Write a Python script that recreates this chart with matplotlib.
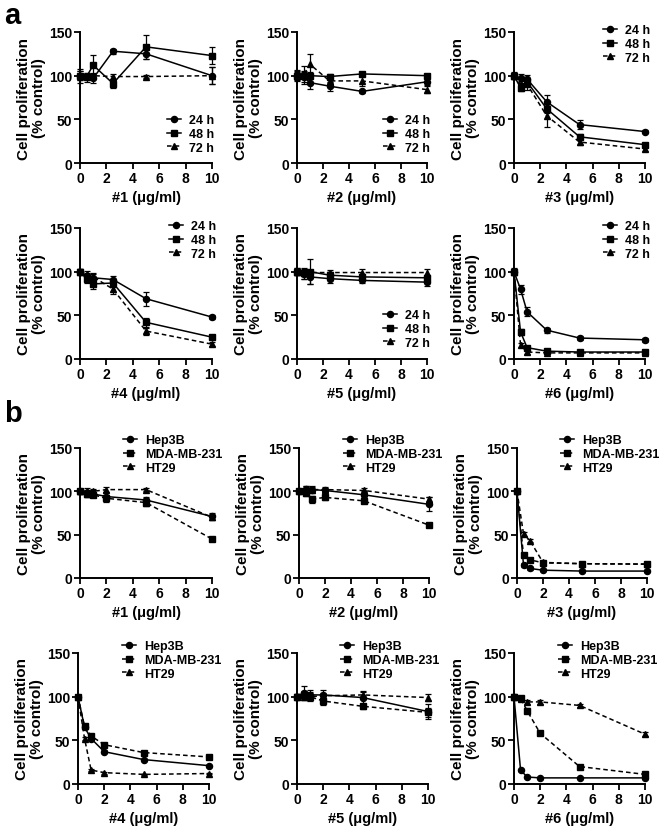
import matplotlib
matplotlib.use("Agg")
import matplotlib.pyplot as plt
from matplotlib.lines import Line2D

plt.rcParams['font.family'] = ['Liberation Sans', 'DejaVu Sans']
plt.rcParams['font.weight'] = 'bold'

W, H = 660, 828

# ---------------- data ----------------
x_a = [0, 0.5, 1, 2.5, 5, 10]
x_b = [0, 0.5, 1, 2, 5, 10]
labels_a = ["24 h", "48 h", "72 h"]
labels_b = ["Hep3B", "MDA-MB-231", "HT29"]
xlabels = ["#1 (\u03bcg/ml)", "#2 (\u03bcg/ml)", "#3 (\u03bcg/ml)",
           "#4 (\u03bcg/ml)", "#5 (\u03bcg/ml)", "#6 (\u03bcg/ml)"]

# panel a: time course (24 h, 48 h, 72 h)
a1_24 = [100, 98, 97, 128, 125, 100]
a1_48 = [100, 99, 112, 91, 133, 123]
a1_72 = [100, 100, 100, 99, 99, 100]
a1_err = [[8, 5, 5, 3, 6, 10], [5, 3, 12, 5, 14, 10], [5, 3, 3, 3, 2, 10]]

a2_24 = [100, 99, 92, 88, 82, 93]
a2_48 = [100, 100, 100, 99, 102, 100]
a2_72 = [100, 101, 113, 94, 94, 84]
a2_err = [[6, 6, 7, 5, 2, 4], [4, 4, 4, 3, 2, 2], [5, 10, 12, 4, 6, 4]]

a3_24 = [100, 97, 96, 70, 44, 36]
a3_48 = [100, 86, 93, 62, 30, 21]
a3_72 = [100, 90, 90, 54, 24, 16]
a3_err = [[4, 5, 5, 8, 5, 2], [3, 3, 4, 5, 3, 2], [3, 4, 6, 13, 3, 2]]

a4_24 = [100, 95, 93, 91, 69, 48]
a4_48 = [100, 92, 86, 87, 42, 25]
a4_72 = [100, 97, 94, 80, 32, 17]
a4_err = [[3, 4, 4, 4, 8, 2], [3, 5, 6, 5, 5, 2], [3, 4, 4, 6, 4, 2]]

a5_24 = [100, 97, 94, 92, 90, 88]
a5_48 = [100, 98, 100, 96, 94, 93]
a5_72 = [100, 99, 99, 99, 99, 99]
a5_err = [[4, 5, 8, 5, 3, 4], [4, 6, 14, 4, 3, 3], [3, 4, 3, 3, 4, 4]]

a6_24 = [100, 80, 54, 33, 24, 22]
a6_48 = [100, 31, 13, 9, 8, 8]
a6_72 = [100, 16, 8, 7, 7, 7]
a6_err = [[4, 5, 5, 3, 2, 2], [3, 3, 2, 2, 2, 2], [3, 2, 2, 1, 1, 1]]

# panel b: cell lines (Hep3B, MDA-MB-231, HT29)
b1_hep = [100, 98, 97, 94, 90, 71]
b1_mda = [100, 97, 96, 92, 87, 45]
b1_ht = [100, 100, 100, 102, 102, 70]
b1_err = [[3, 4, 4, 5, 3, 4], [3, 4, 3, 4, 4, 2], [2, 4, 3, 3, 2, 3]]

b2_hep = [100, 103, 102, 101, 96, 85]
b2_mda = [100, 98, 91, 93, 89, 61]
b2_ht = [100, 103, 102, 102, 101, 91]
b2_err = [[2, 3, 4, 3, 4, 8], [2, 3, 4, 3, 3, 2], [2, 3, 3, 3, 3, 3]]

b3_hep = [100, 15, 11, 9, 8, 8]
b3_mda = [100, 26, 21, 17.5, 16.5, 16]
b3_ht = [100, 51, 43, 18, 16.5, 16]
b3_err = [[2, 2, 2, 1, 1, 1], [2, 2, 2, 1, 1, 1], [2, 2, 2, 1, 1, 1]]

b4_hep = [100, 65, 52, 37, 28, 21]
b4_mda = [100, 66, 55, 45, 36, 31]
b4_ht = [100, 52, 16, 13, 11, 12]
b4_err = [[2, 2, 2, 2, 1, 1], [2, 3, 2, 2, 2, 2], [2, 2, 1, 1, 1, 1]]

b5_hep = [100, 104, 102, 102, 99, 83]
b5_mda = [100, 102, 100, 95, 89, 82]
b5_ht = [100, 100, 100, 101, 102, 99]
b5_err = [[3, 8, 6, 6, 8, 9], [3, 4, 5, 4, 3, 5], [3, 4, 3, 3, 3, 4]]

b6_hep = [100, 16, 8, 7, 7, 7]
b6_mda = [100, 98, 84, 58, 20, 11]
b6_ht = [100, 97, 94, 94, 90, 57]
b6_err = [[2, 1, 1, 1, 1, 1], [3, 3, 3, 2, 2, 2], [2, 2, 2, 2, 2, 2]]

panels_a = [(a1_24, a1_48, a1_72, a1_err), (a2_24, a2_48, a2_72, a2_err),
            (a3_24, a3_48, a3_72, a3_err), (a4_24, a4_48, a4_72, a4_err),
            (a5_24, a5_48, a5_72, a5_err), (a6_24, a6_48, a6_72, a6_err)]
panels_b = [(b1_hep, b1_mda, b1_ht, b1_err), (b2_hep, b2_mda, b2_ht, b2_err),
            (b3_hep, b3_mda, b3_ht, b3_err), (b4_hep, b4_mda, b4_ht, b4_err),
            (b5_hep, b5_mda, b5_ht, b5_err), (b6_hep, b6_mda, b6_ht, b6_err)]

# ---------------- layout (pixels) ----------------
axes_px_a = [(80, 212, 33, 164), (297, 427, 33, 164), (514, 645, 33, 164),
             (80, 212, 229, 360), (297, 427, 229, 360), (514, 645, 229, 360)]
axes_px_b = [(80, 212, 449, 579), (299, 429, 449, 579), (517, 647, 449, 579),
             (78, 209, 654, 785), (297, 428, 654, 785), (514, 645, 654, 785)]
# legend anchor: (handle-left x, top y)
leg_a = [(167, 115), (383, 115), (603, 25), (169, 221), (383, 310), (603, 221)]
leg_b = [(123, 435), (343, 435), (560, 435), (122, 641), (340, 641), (558, 641)]

styles_a = [dict(marker='o', ls='-'), dict(marker='s', ls='-'), dict(marker='^', ls=(0, (3, 2)))]
styles_b = [dict(marker='o', ls='-'), dict(marker='s', ls=(0, (3, 2))), dict(marker='^', ls=(0, (3, 2)))]

fig = plt.figure(figsize=(W / 100, H / 100), dpi=100)


def make_ax(px):
    x0, x1, y0, y1 = px
    return fig.add_axes([x0 / W, 1 - y1 / H, (x1 - x0) / W, (y1 - y0) / H])


def draw(ax, xs, series, errs, styles, labels, leg, xlabel):
    handles = []
    for ys, er, st in zip(series, errs, styles):
        ms = 4.4 if st['marker'] != '^' else 4.2
        ax.errorbar(xs, ys, yerr=er, color='black', lw=1.1, ls=st['ls'],
                    marker=st['marker'], ms=ms, elinewidth=0.9, capsize=2.2,
                    capthick=0.9, clip_on=False, zorder=3)
        handles.append(Line2D([], [], color='black', lw=1.1, ls=st['ls'],
                              marker=st['marker'], ms=ms))
    ax.set_xlim(0, 10)
    ax.set_ylim(0, 150)
    ax.set_xticks([0, 2, 4, 6, 8, 10])
    ax.set_yticks([0, 50, 100, 150])
    for s in ['top', 'right']:
        ax.spines[s].set_visible(False)
    for s in ['left', 'bottom']:
        ax.spines[s].set_linewidth(1.4)
    ax.tick_params(width=1.3, length=4, labelsize=10, pad=1.5)
    for t in ax.get_xticklabels() + ax.get_yticklabels():
        t.set_fontweight('bold')
    ax.set_ylabel("Cell proliferation\n(% control)", fontsize=11,
                  fontweight='bold', labelpad=2, linespacing=1.1)
    ax.set_xlabel(xlabel, fontsize=10.5, fontweight='bold', labelpad=4)
    lx, ly = leg
    ax.legend(handles, labels, loc='upper left',
              bbox_to_anchor=(lx / W, 1 - ly / H), bbox_transform=fig.transFigure,
              frameon=False, prop={'weight': 'bold', 'size': 9},
              borderpad=0, borderaxespad=0, handlelength=1.15, handletextpad=0.6,
              labelspacing=0.15)


for i in range(6):
    ax = make_ax(axes_px_a[i])
    s24, s48, s72, er = panels_a[i]
    draw(ax, x_a, [s24, s48, s72], er, styles_a, labels_a, leg_a[i], xlabels[i])

for i in range(6):
    ax = make_ax(axes_px_b[i])
    sh, sm, st, er = panels_b[i]
    draw(ax, x_b, [sh, sm, st], er, styles_b, labels_b, leg_b[i], xlabels[i])

fig.text(4 / W, 1 - 2 / H, "a", fontsize=21, fontweight='bold', va='top', ha='left')
fig.text(4 / W, 1 - 400 / H, "b", fontsize=21, fontweight='bold', va='top', ha='left')

fig.savefig("out.png", dpi=100)
